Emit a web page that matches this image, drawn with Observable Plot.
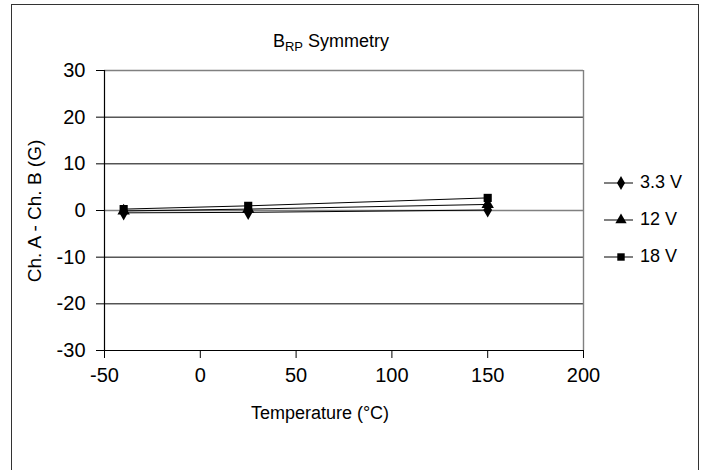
<!DOCTYPE html>
<html><head><meta charset="utf-8">
<script src="https://cdn.jsdelivr.net/npm/d3@7"></script>
<script src="https://cdn.jsdelivr.net/npm/@observablehq/plot@0.6"></script>
<style>
body{margin:0;background:#fff;font-family:"Liberation Sans",Arial,sans-serif;color:#000;}
#wrap{position:relative;width:705px;height:470px;overflow:hidden;background:#fff;}
#wrap > svg{position:absolute;left:0;top:0;}
#wrap > svg text{font-size:20px;font-family:"Liberation Sans",Arial,sans-serif;fill:#000;}
#frame{position:absolute;left:11px;top:4px;width:688px;height:490px;border:1.5px solid #333;box-sizing:border-box;pointer-events:none;}
#title{position:absolute;top:31px;left:0;width:662px;text-align:center;font-size:18px;}
#title sub{font-size:13px;vertical-align:-4px;line-height:0;}
#xlabel{position:absolute;top:403px;left:0;width:640px;text-align:center;font-size:18px;}
#ylabel{position:absolute;left:35px;top:211px;transform:translate(-50%,-50%) rotate(-90deg);white-space:nowrap;font-size:19px;}
#legend{position:absolute;left:604px;top:164px;font-size:18px;}
.li{display:flex;align-items:center;height:37px;}
.li svg{margin-right:6px;}
</style></head>
<body><div id="wrap">
<div id="title">B<sub>RP</sub> Symmetry</div>
<div id="ylabel">Ch. A - Ch. B (G)</div>
<div id="xlabel">Temperature (°C)</div>
<div id="legend"></div>
<div id="frame"></div>
</div>
<script>
const temps = [-40, 25, 150];
const seriesNames = ["3.3 V", "12 V", "18 V"];
const v33 = [-0.5, -0.4, 0.1];
const v12 = [-0.1, 0.3, 1.3];
const v18 = [0.3, 1.0, 2.7];
const symbols = ["diamond", "triangle", "square"];
const xTicks = [-50, 0, 50, 100, 150, 200];
const yTicks = [-30, -20, -10, 0, 10, 20, 30];

const values = [v33, v12, v18];
const data = [];
seriesNames.forEach((s, i) => temps.forEach((t, j) => data.push({series: s, t, v: values[i][j]})));

const chart = Plot.plot({
  width: 705, height: 470,
  marginLeft: 104, marginRight: 122, marginTop: 70, marginBottom: 120,
  style: {fontFamily: '"Liberation Sans", Arial, sans-serif', fontSize: "20px", background: "transparent", color: "#000"},
  x: {domain: [-50, 200]},
  y: {domain: [-30, 30]},
  symbol: {domain: seriesNames, range: symbols},
  marks: [
    Plot.ruleY(yTicks.filter(d => d !== 0 && d !== 30 && d !== -30), {stroke: "#000", strokeWidth: 1}),
    Plot.ruleY([30, 0], {stroke: "#808080", strokeWidth: 1.4}),
    Plot.ruleX([200], {stroke: "#808080", strokeWidth: 1.4}),
    Plot.ruleX([-50], {stroke: "#000", strokeWidth: 1.2}),
    Plot.ruleY([-30], {stroke: "#000", strokeWidth: 1.2}),
    Plot.axisX({ticks: xTicks, tickSize: 8, tickPadding: 9, label: null, fontSize: 20, stroke: "#000", tickFormat: d => String(d)}),
    Plot.axisY({ticks: yTicks, tickSize: 8, tickPadding: 11, label: null, fontSize: 20, stroke: "#000", tickFormat: d => String(d)}),
    Plot.line(data, {x: "t", y: "v", z: "series", stroke: "#000", strokeWidth: 1}),
    Plot.dot(data, {x: "t", y: "v", symbol: "series", fill: "#000", stroke: "none", r: 4.6})
  ]
});
document.getElementById("wrap").prepend(chart);

const legend = document.getElementById("legend");
seriesNames.forEach((s, i) => {
  const row = document.createElement("div");
  row.className = "li";
  const sym = d3.symbol(d3["symbol" + symbols[i][0].toUpperCase() + symbols[i].slice(1)], 55)();
  row.innerHTML = `<svg width="30" height="14"><line x1="0" x2="29" y1="7" y2="7" stroke="#000"/><path transform="translate(17,7)" d="${sym}" fill="#000"/></svg><span>${s}</span>`;
  legend.appendChild(row);
});
</script>
</body></html>
